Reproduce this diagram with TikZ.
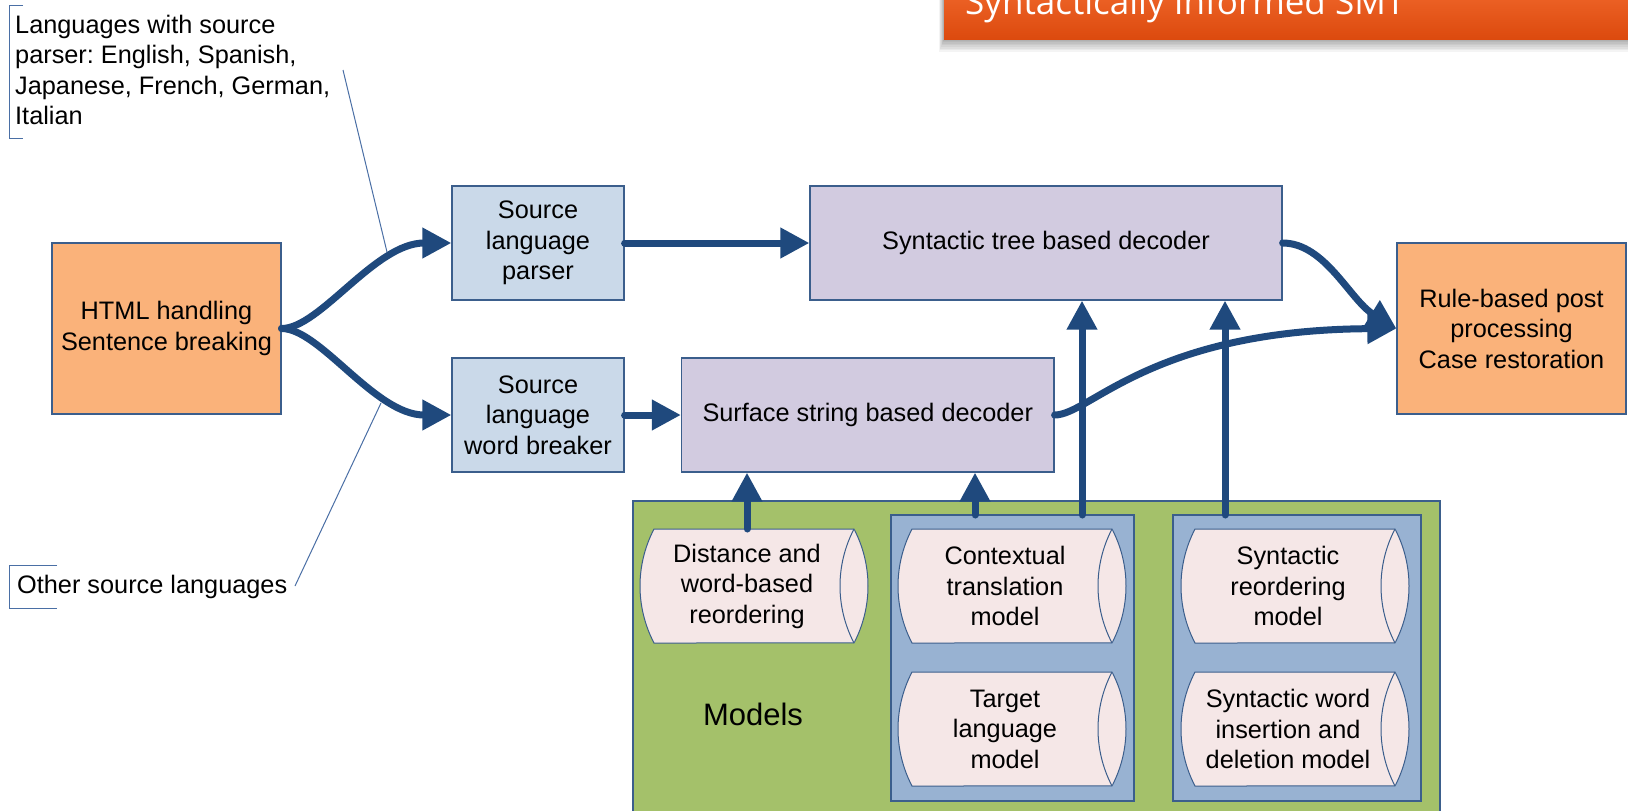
\documentclass[tikz,border=0pt]{standalone}
\usepackage{fontspec}
\setmainfont{Liberation Sans}
\newfontfamily\bannerfont{Open Sans}
\usetikzlibrary{arrows.meta}
\definecolor{orangebox}{HTML}{FAB27A}
\definecolor{edgeblue}{HTML}{3B5E8C}
\definecolor{parserblue}{HTML}{CAD9E9}
\definecolor{decoderlav}{HTML}{D2CBE0}
\definecolor{modelgreen}{HTML}{A4C16A}
\definecolor{panelblue}{HTML}{98B2D2}
\definecolor{cylpink}{HTML}{F5E7E7}
\definecolor{arrowblue}{HTML}{1F497D}
\definecolor{calloutblue}{HTML}{4A6FA5}
\definecolor{bannertop}{HTML}{F26A2E}
\definecolor{bannerbot}{HTML}{DC4A0E}
\frenchspacing
\newcommand\bodyfont{\fontsize{25.3}{30.5}\selectfont}
\newcommand\cylshape[4]{%
  \begin{scope}[shift={(#2,-#3)}]
    \filldraw[cylline] (0,0) -- (200,0) arc[start angle=27.6,end angle=-27.6,radius=123]
      -- (0,-114) arc[start angle=207.6,end angle=152.4,radius=123] -- cycle;
    \draw[cylline] (200,0) arc[start angle=152.4,end angle=207.6,radius=123];
    \node[plaintext, minimum width=186pt, minimum height=114pt] (#1) at (93,-57) {#4};
  \end{scope}}
\begin{document}
\begin{tikzpicture}[x=1pt,y=1pt,
  plaintext/.style={inner sep=0pt, align=center, font=\bodyfont},
  procbox/.style={draw=edgeblue, line width=1.2pt, inner sep=0pt, align=center, font=\bodyfont},
  panelbox/.style={draw=edgeblue, line width=1.2pt, inner sep=0pt},
  cylline/.style={draw=edgeblue, line width=1pt, fill=cylpink},
  flow/.style={draw=arrowblue, line width=7pt, line cap=round, -{Triangle[length=29pt,width=29pt]}},
  callout/.style={draw=calloutblue, line width=1pt}]
\clip (0,0) rectangle (1628,-811);
\fill[white] (0,0) rectangle (1628,-811);

% banner with shadow
\foreach \i in {1,...,8}
  \fill[black,opacity=0.045] (944-\i*0.6,10) rectangle (1640,-39-\i*1.6);
\shade[top color=bannertop, bottom color=bannerbot] (944,20) rectangle (1640,-39);
\node[anchor=base west, inner sep=0pt, text=white, font=\bannerfont\fontsize{35}{42}\selectfont] (title) at (965,-14) {Syntactically Informed SMT};

% callouts
\node[anchor=north west, inner sep=0pt, align=left, font=\bodyfont] (langs) at (15,-14.5)
  {Languages with source\\parser: English, Spanish,\\Japanese, French, German,\\Italian};
\draw[callout] (23,-5) -- (9,-5) -- (9,-138) -- (23,-138);
\node[anchor=base west, inner sep=0pt, font=\bodyfont] (others) at (17,-593) {Other source languages};
\draw[callout] (57,-565) -- (9,-565) -- (9,-608) -- (57,-608);
\coordinate (c1a) at (343,-70);
\coordinate (c1b) at (387,-252);
\coordinate (c2a) at (295,-586);
\coordinate (c2b) at (381,-403);
\draw[callout] (c1a) -- (c1b);
\draw[callout] (c2a) -- (c2b);

% main boxes
\node[procbox, fill=orangebox, minimum width=229pt, minimum height=171pt] (html) at (166.5,-328.5) {HTML handling\\Sentence breaking};
\node[procbox, fill=parserblue, minimum width=172pt, minimum height=114pt] (parser) at (538,-243) {Source\\language\\parser};
\node[procbox, fill=parserblue, minimum width=172pt, minimum height=114pt] (wb) at (538,-415) {Source\\language\\word breaker};
\node[procbox, fill=decoderlav, minimum width=472pt, minimum height=114pt] (synt) at (1046,-243) {Syntactic tree based decoder};
\node[procbox, fill=decoderlav, minimum width=372.5pt, minimum height=114pt] (surf) at (867.75,-415) {Surface string based decoder};
\node[procbox, fill=orangebox, minimum width=229pt, minimum height=171pt] (rule) at (1511.5,-328.5) {Rule-based post\\processing\\Case restoration};

% models area
\node[panelbox, fill=modelgreen, minimum width=807pt, minimum height=320pt] (models) at (1036.5,-661) {};
\node[panelbox, fill=panelblue, minimum width=243pt, minimum height=286pt] (panelA) at (1012.5,-658) {};
\node[panelbox, fill=panelblue, minimum width=248pt, minimum height=286pt] (panelB) at (1297,-658) {};
\node[anchor=base, inner sep=0pt, font=\fontsize{31}{37}\selectfont] (modelslabel) at (753,-725) {Models};

\cylshape{cylA}{654}{529}{Distance and\\word-based\\reordering}
\cylshape{cylB}{912}{529}{Contextual\\translation\\model}
\cylshape{cylC}{912}{672}{Target\\language\\model}
\cylshape{cylD}{1195}{529}{Syntactic\\reordering\\model}
\cylshape{cylE}{1195}{672}{Syntactic word\\insertion and\\deletion model}

% connectors
\draw[flow] (html.east) .. controls (320,-328.5) and (375,-243) .. (parser.west);
\draw[flow] (html.east) .. controls (320,-328.5) and (375,-415) .. (wb.west);
\draw[flow] (parser.east) -- (synt.west);
\draw[flow] (wb.east) -- (surf.west);
\draw[flow] (synt.east) .. controls (1325,-243) and (1350,-300) .. (rule.west);
\draw[flow] (surf.east) .. controls (1090,-415) and (1150,-330) .. (rule.west);

\coordinate (vA) at (975,-515);
\coordinate (vB) at (1082,-515);
\coordinate (vC) at (1225,-515);
\draw[flow] (cylA.north |- 0,-529) -- (cylA.north |- surf.south);
\draw[flow] (vA) -- (vA |- surf.south);
\draw[flow] (vB) -- (vB |- synt.south);
\draw[flow] (vC) -- (vC |- synt.south);
\end{tikzpicture}
\end{document}
